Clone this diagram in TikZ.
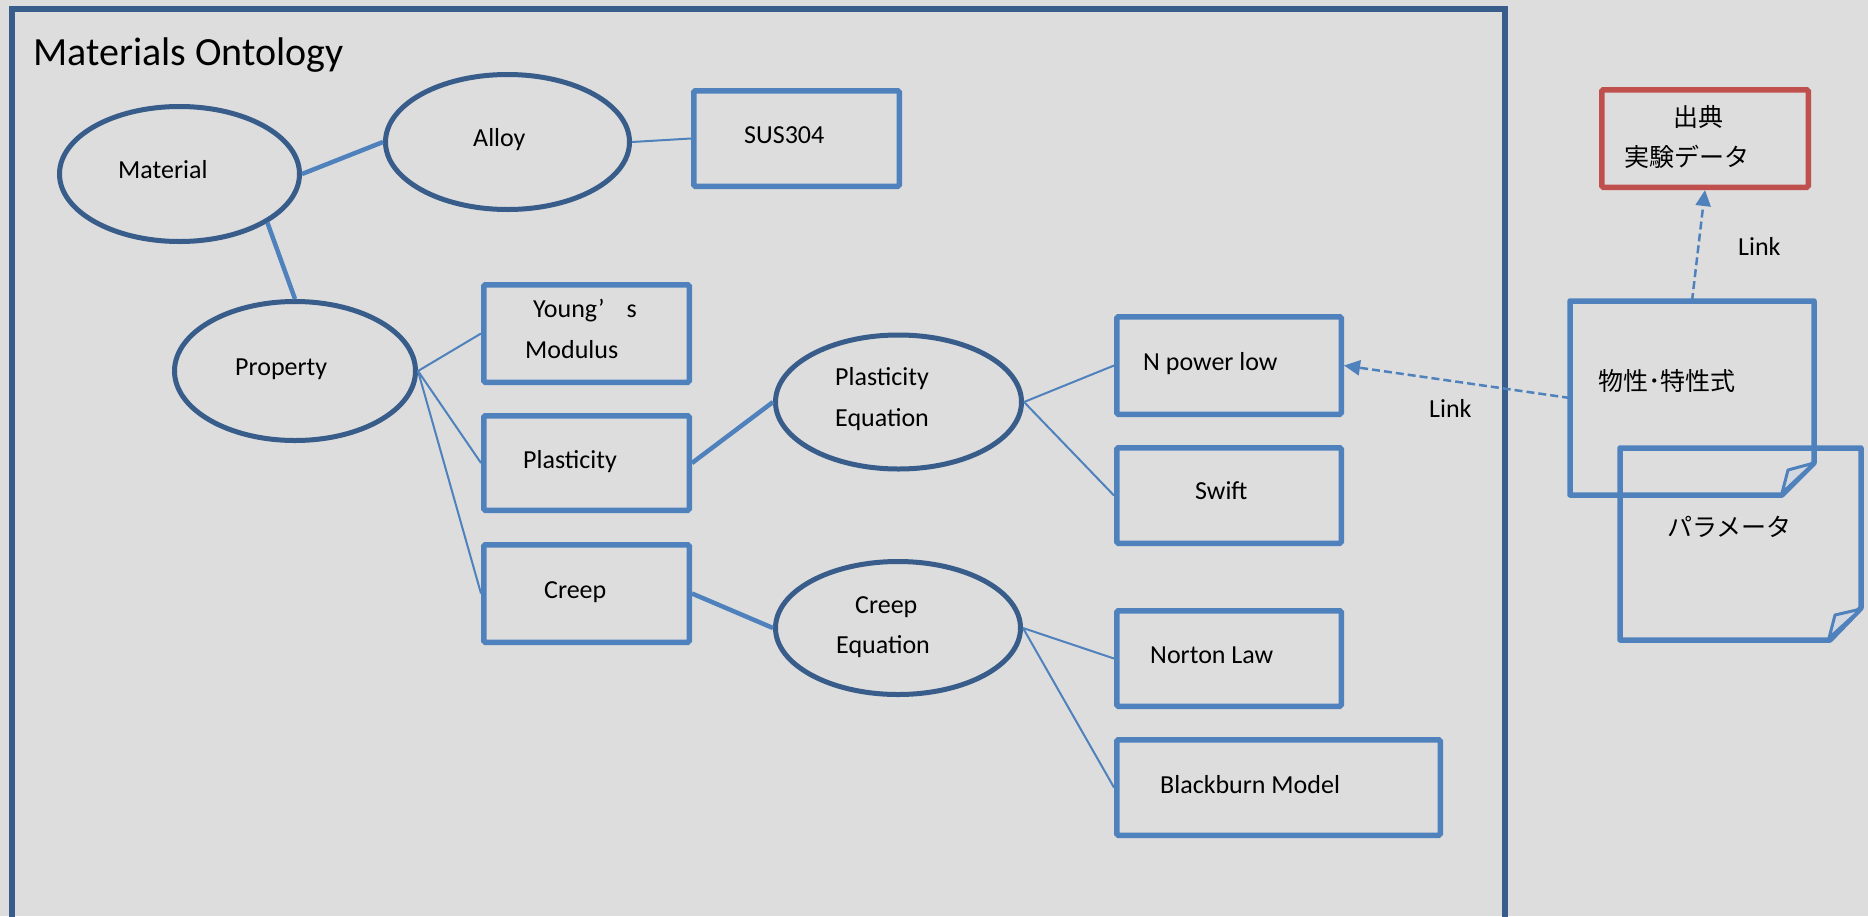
\documentclass[tikz,border=0pt]{standalone}
\usepackage{fontspec}
\setmainfont{Carlito}
\newfontfamily\jpfont{Noto Sans CJK JP}
\usetikzlibrary{shapes.geometric,arrows.meta,calc}
\definecolor{bg}{HTML}{DDDDDD}
\definecolor{dblue}{HTML}{385D8A}
\definecolor{lblue}{HTML}{4F81BD}
\definecolor{dred}{HTML}{C0504D}
\definecolor{flapc}{HTML}{D3D8E0}
\begin{document}
\begin{tikzpicture}[x=1pt,y=-1pt,
  ell/.style={ellipse, draw=dblue, line width=5pt, inner sep=0pt},
  box/.style={rectangle, draw=lblue, line width=5.5pt, rounded corners=1.5pt, inner sep=0pt},
  redbox/.style={box, draw=dred},
  txt/.style={inner sep=0pt, anchor=base west, font=\fontsize{26}{40}\selectfont, text=black},
  jtxt/.style={inner sep=0pt, anchor=west, font=\fontsize{25}{40}\selectfont\jpfont, text=black},
  conn/.style={draw=lblue, line width=2pt},
  bconn/.style={draw=lblue, line width=4.5pt},
  linkarrow/.style={draw=lblue, line width=2.5pt, dash pattern=on 8pt off 4pt, -{Triangle[length=16pt,width=15pt]}},
  noteline/.style={draw=lblue, line width=5.5pt, line join=round},
  flap/.style={draw=lblue, fill=flapc, line width=3pt, line join=round},
  noteholder/.style={rectangle, inner sep=0pt, outer sep=0pt},
  outerframe/.style={draw=dblue, line width=5.5pt}
]
\path[use as bounding box, fill=bg] (0,0) rectangle (1868,916);
\draw[outerframe] (12,940) -- (12,9) -- (1505,9) -- (1505,940);

\node[txt, font=\fontsize{40}{48}\selectfont] (title) at (33,65) {Materials Ontology};

% ellipses
\node[ell, minimum width=240pt, minimum height=135pt] (mat) at (179.5,174) {};
\node[ell, minimum width=244pt, minimum height=135pt] (alloy) at (507.5,142) {};
\node[ell, minimum width=241pt, minimum height=139pt] (prop) at (295,371) {};
\node[ell, minimum width=246pt, minimum height=134pt] (peq) at (898.5,402) {};
\node[ell, minimum width=245pt, minimum height=133pt] (ceq) at (898,628) {};

% boxes
\node[box, minimum width=205.5pt, minimum height=95.5pt] (sus) at (796.5,138.5) {};
\node[box, minimum width=205.5pt, minimum height=97.5pt] (young) at (586.5,333.5) {};
\node[box, minimum width=205.5pt, minimum height=94.5pt] (plast) at (586.5,463) {};
\node[box, minimum width=205.5pt, minimum height=97.5pt] (creep) at (586.5,593.5) {};
\node[box, minimum width=224.5pt, minimum height=97.5pt] (npow) at (1229,365.5) {};
\node[box, minimum width=224.5pt, minimum height=95.5pt] (swift) at (1229,495.5) {};
\node[box, minimum width=224.5pt, minimum height=95.5pt] (norton) at (1229,658.5) {};
\node[box, minimum width=323.5pt, minimum height=95.5pt] (black) at (1278.5,787.5) {};
\node[redbox, minimum width=206.5pt, minimum height=97.5pt] (red) at (1705,138.5) {};

% texts
\node[txt] (matT) at (118,178) {Material};
\node[txt] (alloyT) at (473,146) {Alloy};
\node[txt] (propT) at (235,375) {Property};
\node[txt] (susT) at (744,143) {SUS304};
\node[txt] (youngT) at (533,317) {Young’\hspace{22pt}s};
\node[txt] (modT) at (525,358) {Modulus};
\node[txt] (plastT) at (523,468) {Plasticity};
\node[txt] (creepT) at (544,598) {Creep};
\node[txt] (peqT1) at (835,385) {Plasticity};
\node[txt] (peqT2) at (835,426) {Equation};
\node[txt] (ceqT1) at (855,613) {Creep};
\node[txt] (ceqT2) at (836,653) {Equation};
\node[txt] (npowT) at (1143,370) {N power low};
\node[txt] (swiftT) at (1195,499) {Swift};
\node[txt] (nortonT) at (1150,663) {Norton Law};
\node[txt] (blackT) at (1160,793) {Blackburn Model};
\node[txt] (link1T) at (1429,417) {Link};
\node[txt] (link2T) at (1738,255) {Link};
\node[jtxt] (srcT1) at (1673,117) {出典};
\node[jtxt] (srcT2) at (1624,157) {実験データ};

% connectors
\draw[bconn] (mat.east) -- (alloy.west);
\draw[bconn] (mat.-29) -- (prop.north);
\draw[conn] (alloy.east) -- (sus.west);
\draw[conn] (prop.east) -- (young.west);
\draw[conn] (prop.east) -- (plast.west);
\draw[conn] (prop.east) -- (creep.west);
\draw[bconn] (plast.east) -- (peq.west);
\draw[bconn] (creep.east) -- (ceq.west);
\draw[conn] (peq.east) -- (npow.west);
\draw[conn] (peq.east) -- (swift.west);
\draw[conn] (ceq.east) -- (norton.west);
\draw[conn] (ceq.east) -- (black.west);

% notes
\node[noteholder, minimum width=244pt, minimum height=194pt] (n1) at (1692,398) {};
\node[noteholder, minimum width=241pt, minimum height=192pt] (n2) at (1740.5,544) {};
\draw[noteline] (n1.north west) -- (n1.north east) -- ($(n1.south east)+(0,-32)$) -- ($(n1.south east)+(-32,0)$) -- (n1.south west) -- cycle;
\draw[flap] ($(n1.south east)+(0,-32)$) -- ($(n1.south east)+(-26,-25)$) -- ($(n1.south east)+(-32,-2)$) -- cycle;
\draw[noteline] (n2.north west) -- (n2.north east) -- ($(n2.south east)+(0,-32)$) -- ($(n2.south east)+(-31,0)$) -- (n2.south west) -- cycle;
\draw[flap] ($(n2.south east)+(0,-31)$) -- ($(n2.south east)+(-26,-25)$) -- ($(n2.south east)+(-32,-2)$) -- cycle;
\node[jtxt] (n1T) at (1598,381) {物性･特性式};
\node[jtxt] (n2T) at (1667,527) {パラメータ};

% links
\draw[linkarrow] (n1.west) -- (npow.east);
\draw[linkarrow] (n1.north) -- (red.south);
\end{tikzpicture}
\end{document}
